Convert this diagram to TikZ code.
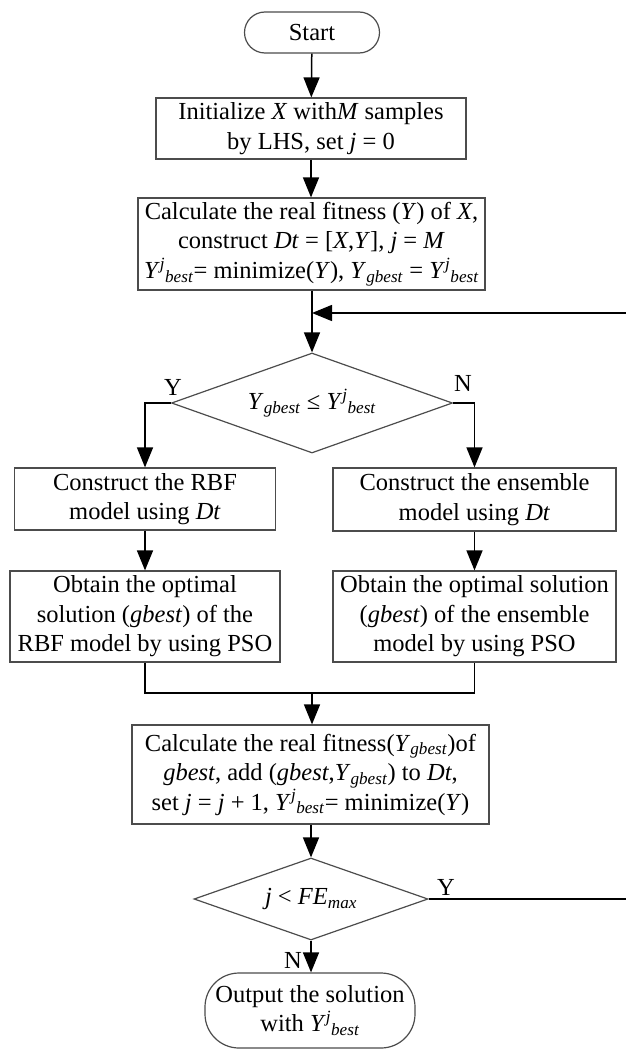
\documentclass[tikz,border=0pt]{standalone}
\usepackage{fontspec}
\setmainfont{Liberation Serif}
\usetikzlibrary{shapes.geometric,arrows.meta}
\newcommand\iv[1]{\textit{#1}}
\newcommand\YJbest{\textit{Y}\textsuperscript{\textit{j}}\textsubscript{\textit{best}}}
\newcommand\Ygb{\textit{Y}\textsubscript{\textit{gbest}}}
\tikzset{
  txt/.style={font=\fontsize{24.5}{29.5}\selectfont},
  box/.style={draw=black!70, line width=1.2pt, rectangle, align=center, inner sep=0pt, txt},
  term/.style={box, rounded corners=#1},
  dec/.style={draw=black!70, line width=1.2pt, diamond, aspect=2.8, inner sep=0pt, txt},
  flow/.style={draw=black, line width=1.5pt, -{Triangle[length=20pt,width=16pt]}},
  plain/.style={draw=black, line width=1.5pt},
  lab/.style={txt, inner sep=0pt}
}
\begin{document}
\begin{tikzpicture}[x=1pt,y=-1pt]
\useasboundingbox (0,0) rectangle (625,1049);
\node[term=20.5pt, minimum width=135pt, minimum height=41pt] (start) at (312,32.5) {Start};
\node[box, minimum width=310pt, minimum height=61pt] (init) at (311,128.5) {Initialize \iv{X} with\iv{M} samples\\by LHS, set \iv{j} = 0};
\node[box, minimum width=347pt, minimum height=92pt] (calc) at (311.5,244) {Calculate the real fitness (\iv{Y}) of \iv{X},\\construct \iv{Dt} = [\iv{X},\iv{Y}], \iv{j} = \iv{M}\\\YJbest= minimize(\iv{Y}), \Ygb{} = \YJbest};
\node[dec, minimum width=281pt, minimum height=100pt] (d1) at (312,403) {\Ygb{} ≤\ \YJbest};
\node[box, minimum width=261pt, minimum height=62pt] (rbf) at (145,499) {Construct the RBF\\model using \iv{Dt}};
\node[box, minimum width=283pt, minimum height=63pt] (ens) at (474.5,499.5) {Construct the ensemble\\model using \iv{Dt}};
\node[box, minimum width=270pt, minimum height=91pt] (obtL) at (145,616.5) {Obtain the optimal\\solution (\iv{gbest}) of the\\RBF model by using PSO};
\node[box, minimum width=283pt, minimum height=91pt] (obtR) at (474.5,616.5) {Obtain the optimal solution\\(\iv{gbest}) of the ensemble\\model by using PSO};
\node[box, minimum width=357pt, minimum height=99pt] (calc2) at (310.5,774.5) {Calculate the real fitness(\Ygb)of\\\iv{gbest}, add (\iv{gbest},\Ygb) to \iv{Dt},\\set \iv{j} = \iv{j} + 1, \YJbest= minimize(\iv{Y})};
\node[dec, minimum width=234pt, minimum height=82pt] (d2) at (311,899) {\iv{j} < \iv{FE}\textsubscript{\iv{max}}};
\node[term=34pt, minimum width=210pt, minimum height=75pt] (out) at (310,1010.5) {Output the solution\\with \YJbest};
% connectors
\coordinate (join) at (312,313);
\coordinate (merge) at (312,693);
\coordinate (far) at (629,899);
\draw[flow] (start) -- (init);
\draw[flow] (init) -- (init |- calc.north);
\draw[flow] (calc.south -| d1.north) -- (d1.north);
\draw[flow] (d1.west) -| (rbf.north);
\draw[flow] (d1.east) -| (ens.north);
\draw[flow] (rbf) -- (obtL);
\draw[flow] (ens) -- (obtR);
\draw[plain] (obtL.south) |- (merge) -| (obtR.south);
\draw[flow] (merge) -- (merge |- calc2.north);
\draw[flow] (calc2.south -| d2.north) -- (d2.north);
\draw[flow] (d2.south) -- (d2.south |- out.north);
\draw[flow] (d2.east) -- (far) |- (join);
% labels
\node[lab] (ly1) at (173,387) {Y};
\node[lab] (ln1) at (463,383) {N};
\node[lab] (ly2) at (446,887) {Y};
\node[lab] (ln2) at (293,960) {N};
\end{tikzpicture}
\end{document}
